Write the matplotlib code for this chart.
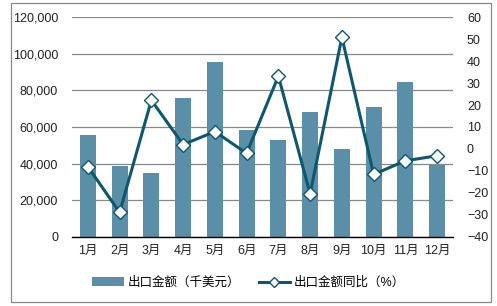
import matplotlib
matplotlib.use("Agg")
import matplotlib.pyplot as plt
from matplotlib.lines import Line2D
from matplotlib.patches import Rectangle, Patch

plt.rcParams['font.family'] = ['Liberation Sans', 'Noto Sans CJK SC', 'DejaVu Sans']

months = ['1月', '2月', '3月', '4月', '5月', '6月', '7月', '8月', '9月', '10月', '11月', '12月']
export_value = [55600, 38700, 34800, 75900, 95500, 58500, 53000, 68200, 48000, 70900, 84600, 39400]
yoy_pct = [-8.1, -28.9, 22.2, 2.0, 7.9, -2.0, 33.2, -20.5, 50.9, -11.6, -5.4, -3.1]
left_ticks = [0, 20000, 40000, 60000, 80000, 100000, 120000]
right_ticks = [-40, -30, -20, -10, 0, 10, 20, 30, 40, 50, 60]

bar_color = '#5B8FA8'
line_color = '#0D5870'

fig = plt.figure(figsize=(4.97, 3.06), dpi=100)
fig.patches.append(Rectangle((10.5/497, 1-302/306), 480/497, 299/306, transform=fig.transFigure,
                             fill=False, edgecolor='#888888', linewidth=0.9))

ax = fig.add_axes([72/497, 1-236.7/306, 381/497, 219.4/306])
x = list(range(len(months)))
ax.bar(x, export_value, width=0.5, color=bar_color, zorder=2)
ax.set_xlim(-0.5, len(months)-0.5)
ax.set_ylim(0, 120000)
ax.set_yticks(left_ticks)
ax.set_yticklabels([f'{v:,}' for v in left_ticks])
ax.set_xticks(x)
ax.set_xticklabels(months)
ax.grid(axis='y', color='#888888', linewidth=0.9, zorder=0)
ax.set_axisbelow(True)
for s in ['left', 'right', 'top']:
    ax.spines[s].set_visible(False)
ax.spines['bottom'].set_color('black')
ax.spines['bottom'].set_linewidth(1.0)
ax.tick_params(axis='both', length=0, labelsize=9, colors='#222222')
ax.tick_params(axis='y', pad=10)
ax.tick_params(axis='x', pad=6)

ax2 = ax.twinx()
ax2.plot(x, yoy_pct, color=line_color, linewidth=2.2, marker='D', markersize=7,
         markerfacecolor='white', markeredgecolor=line_color, markeredgewidth=1.0, zorder=3)
ax2.set_ylim(-40, 60)
ax2.set_yticks(right_ticks)
for s in ['left', 'right', 'top', 'bottom']:
    ax2.spines[s].set_visible(False)
ax2.tick_params(axis='y', length=0, labelsize=9, colors='#222222', pad=10)

handles = [Patch(facecolor=bar_color, edgecolor='none'),
           Line2D([0], [0], color=line_color, linewidth=2.2, marker='D', markersize=5,
                  markerfacecolor='white', markeredgecolor=line_color)]
labels = ['出口金额（千美元）', '出口金额同比（%）']
fig.legend(handles, labels, loc='center', bbox_to_anchor=(0.5, 1-283/306), ncol=2,
           frameon=False, fontsize=9, handlelength=2.5, handletextpad=0.3, columnspacing=1.5)

fig.savefig('out.png', dpi=100)
